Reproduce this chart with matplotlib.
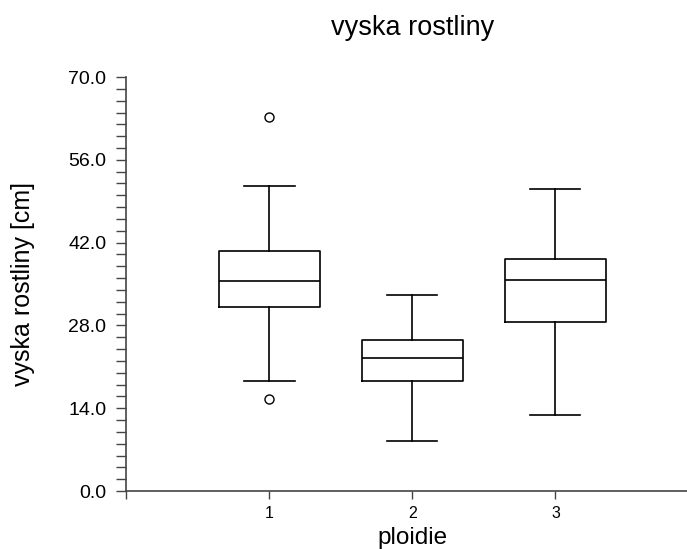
import matplotlib
matplotlib.use("Agg")
import matplotlib.pyplot as plt
from matplotlib.ticker import MultipleLocator, FormatStrFormatter

plt.rcParams["font.family"] = ["Liberation Sans", "DejaVu Sans"]

# summary statistics of plant height per ploidy level
ploidie = [1, 2, 3]
q1 = [31.1, 18.6, 28.5]
median = [35.5, 22.5, 35.7]
q3 = [40.6, 25.6, 39.3]
whisker_lo = [18.6, 8.5, 12.8]
whisker_hi = [51.6, 33.2, 51.0]
outliers = [[63.3, 15.6], [], []]

stats = []
for i, p in enumerate(ploidie):
    stats.append({
        "label": str(p),
        "q1": q1[i],
        "med": median[i],
        "q3": q3[i],
        "whislo": whisker_lo[i],
        "whishi": whisker_hi[i],
        "fliers": outliers[i],
    })

fig = plt.figure(figsize=(6.87, 5.49), dpi=100)
# the x axis runs a little past the right edge of the figure
ax = fig.add_axes([0.1841, 0.1056, 0.8326, 0.7541])

line = dict(color="black", linewidth=1.2)
ax.bxp(
    stats,
    positions=ploidie,
    widths=0.70,
    capwidths=0.35,
    boxprops=line,
    whiskerprops=line,
    capprops=line,
    medianprops=line,
    flierprops=dict(marker="o", markersize=6.5, markerfacecolor="white",
                    markeredgecolor="black", markeredgewidth=1.0),
    manage_ticks=False,
)

ax.set_xlim(0, 4)
ax.set_ylim(0, 70)
ax.yaxis.set_major_locator(MultipleLocator(14))
ax.yaxis.set_minor_locator(MultipleLocator(2))
ax.yaxis.set_major_formatter(FormatStrFormatter("%.1f"))
ax.tick_params(axis="y", which="both", direction="out", length=7, width=1.0,
               color="#444444", pad=7.5, labelsize=14)

ax.set_xticks([0] + ploidie)
ax.set_xticklabels([""] + [str(p) for p in ploidie])
ax.tick_params(axis="x", direction="out", length=6, width=1.0, color="#444444",
               pad=4.5, labelsize=11.5)

for side in ("top", "right"):
    ax.spines[side].set_visible(False)
for side in ("left", "bottom"):
    ax.spines[side].set_color("#444444")
    ax.spines[side].set_linewidth(1.2)

ax.set_xlabel("ploidie", fontsize=17.5)
ax.xaxis.label.set_va("baseline")
ax.xaxis.set_label_coords(0.5, -0.127)

ax.set_ylabel("vyska rostliny [cm]", fontsize=18)
ax.yaxis.label.set_va("center")
ax.yaxis.set_label_coords(-0.181, 0.5)

# title sits over the middle of the (partly hidden) x axis
fig.text(0.6004, 0.9362, "vyska rostliny", fontsize=19.5, ha="center", va="baseline")

fig.savefig("out.png", dpi=100)
